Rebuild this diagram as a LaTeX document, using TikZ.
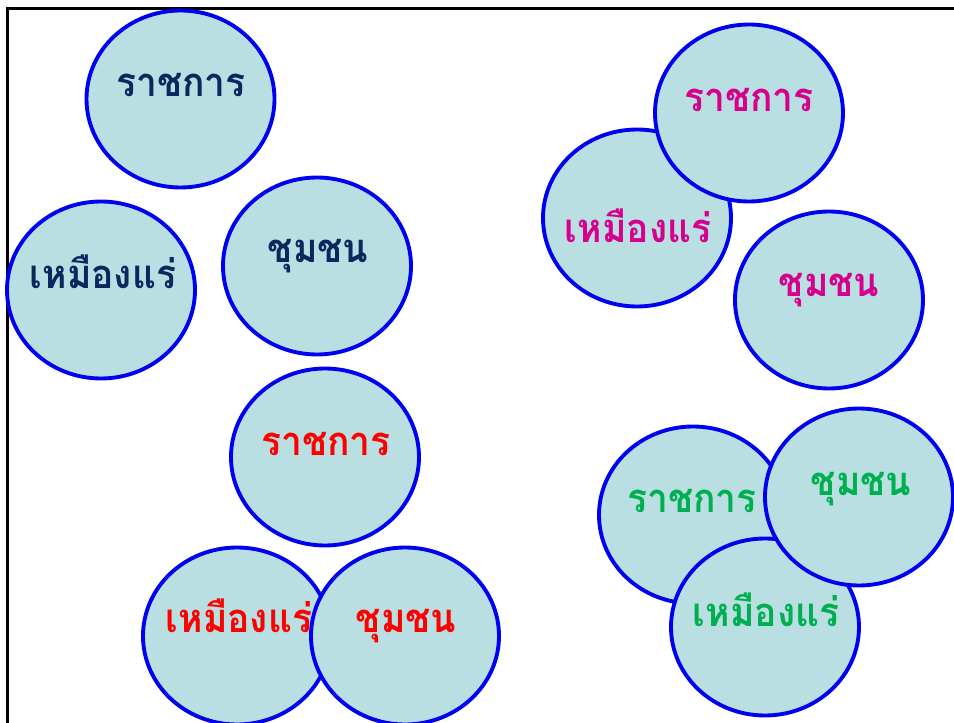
\documentclass[tikz,border=0pt]{standalone}
\usepackage{fontspec}
\newfontfamily\thaifont[Script=Thai]{Loma}
\usetikzlibrary{shapes.geometric}
\definecolor{bubfill}{RGB}{185,223,227}
\definecolor{bubline}{RGB}{0,0,240}
\definecolor{navy}{RGB}{12,38,94}
\definecolor{tred}{RGB}{255,0,0}
\definecolor{tmag}{RGB}{214,0,140}
\definecolor{tgreen}{RGB}{0,176,80}
\tikzset{
  bub/.style={ellipse, draw=bubline, fill=bubfill, line width=2.9pt, inner sep=0pt,
              minimum width=141pt, minimum height=132.75pt},
  lbl/.style={anchor=base, inner sep=0pt, xscale=0.93, transform shape,
              font=\thaifont\bfseries\fontsize{30}{33}\selectfont},
}
\begin{document}
\begin{tikzpicture}[x=0.75pt,y=-0.75pt]
\useasboundingbox (0,0) rectangle (954,723);
\clip (0,0) rectangle (954,723);
\draw[line width=1.6pt, black] (7.5,8.5) rectangle (970,740);
% group 1 (navy)
\node[bub] (a1) at (180.5,99) {};
\node[lbl, text=navy] (ta1) at (181,97) {ราชการ};
\node[bub] (b1) at (101,290) {};
\node[lbl, text=navy] (tb1) at (103,289) {เหมืองแร่};
\node[bub] (c1) at (317,266) {};
\node[lbl, text=navy] (tc1) at (318,263) {ชุมชน};
% group 2 (red)
\node[bub] (a2) at (325,457) {};
\node[lbl, text=tred] (ta2) at (326,456) {ราชการ};
\node[bub] (b2) at (237,636) {};
\node[lbl, text=tred] (tb2) at (239,633) {เหมืองแร่};
\node[bub] (c2) at (405,636) {};
\node[lbl, text=tred] (tc2) at (406,633) {ชุมชน};
% group 3 (magenta)
\node[bub] (b3) at (637,218) {};
\node[lbl, text=tmag] (tb3) at (638,243) {เหมืองแร่};
\node[bub] (a3) at (749,113) {};
\node[lbl, text=tmag] (ta3) at (749,112) {ราชการ};
\node[bub] (c3) at (829,300) {};
\node[lbl, text=tmag] (tc3) at (829,297) {ชุมชน};
% group 4 (green)
\node[bub] (a4) at (693,515) {};
\node[lbl, text=tgreen] (ta4) at (692,513) {ราชการ};
\node[bub] (b4) at (765,627) {};
\node[lbl, text=tgreen] (tb4) at (766,627) {เหมืองแร่};
\node[bub] (c4) at (859,497) {};
\node[lbl, text=tgreen] (tc4) at (861,496) {ชุมชน};
\end{tikzpicture}
\end{document}
